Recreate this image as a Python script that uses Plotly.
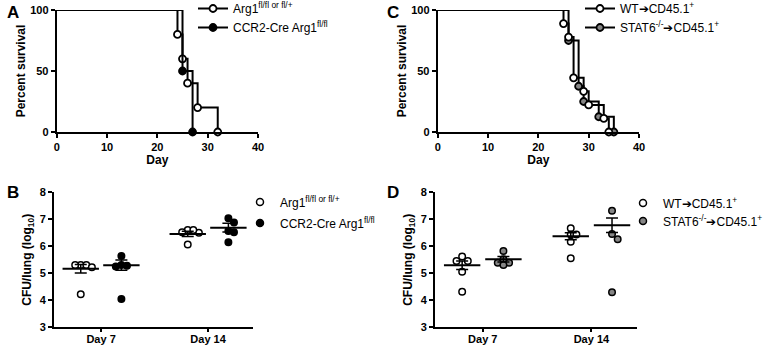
import plotly.graph_objects as go
import math

# ---------------- data ----------------
# Panel A: survival (Kaplan-Meier steps)
a_wt_days = [0, 24, 25, 26, 28, 32]
a_wt_surv = [100, 80, 60, 40, 20, 0]
a_ko_days = [0, 25, 27]
a_ko_surv = [100, 50, 0]
a_names = ["Arg1<sup>fl/fl or fl/+</sup>", "CCR2-Cre Arg1<sup>fl/fl</sup>"]

# Panel C: survival
c_wt_days = [0, 25, 26, 27, 29, 30, 33, 34]
c_wt_surv = [100, 88.9, 77.8, 44.4, 33.3, 22.2, 11.1, 0]
c_st_days = [0, 26, 28, 29, 32, 35]
c_st_surv = [100, 75, 37.5, 25, 12.5, 0]
c_names = ["WT➔CD45.1<sup>+</sup>", "STAT6<sup>-/-</sup>➔CD45.1<sup>+</sup>"]

# Panel B: CFU/lung (log10)
timepoints = ["Day 7", "Day 14"]
b_wt = [[5.31, 5.31, 5.22, 5.31, 4.22], [6.60, 6.52, 6.50, 6.60, 6.07]]
b_ko = [[5.64, 5.31, 5.28, 5.25, 4.05], [7.04, 6.88, 6.57, 6.52, 6.15]]
b_wt_mean = [5.17, 6.46]
b_wt_sem = [0.16, 0.10]
b_ko_mean = [5.30, 6.69]
b_ko_sem = [0.19, 0.16]

# Panel D: CFU/lung (log10)
d_wt = [[5.62, 5.46, 5.46, 5.06, 4.32], [6.67, 6.44, 6.44, 6.17, 5.56]]
d_st = [[5.83, 5.52, 5.39, 5.39, 5.31], [7.32, 6.46, 6.26, 4.30]]
d_wt_mean = [5.30, 6.37]
d_wt_sem = [0.16, 0.13]
d_st_mean = [5.52, 6.78]
d_st_sem = [0.10, 0.27]

FONT = "Liberation Sans, Arial, sans-serif"
GRAY = "#858585"
W, H = 763, 345

fig = go.Figure()

# ---------------- helpers ----------------
def swarm(values, center, xscale=107.5, yscale=27.0, dmin=5.6):
    placed = []
    xs = [0.0] * len(values)
    for i in sorted(range(len(values)), key=lambda k: -values[k]):
        ypx = values[i] * yscale
        cands = [0.0]
        for n in range(1, 10):
            cands += [n * dmin, -n * dmin]
        for off in cands:
            if all(math.hypot(off - px, ypx - py) >= dmin - 1e-6 for px, py in placed):
                placed.append((off, ypx))
                xs[i] = center + off / xscale
                break
    return xs


def km(days, surv, name, fill, xa, ya, legend):
    fig.add_trace(go.Scatter(x=days, y=surv, mode="lines", line=dict(color="black", width=2, shape="hv"),
                             xaxis=xa, yaxis=ya, showlegend=False, cliponaxis=False, hoverinfo="skip"))
    fig.add_trace(go.Scatter(x=days[1:], y=surv[1:], mode="markers",
                             marker=dict(size=7, color=fill, line=dict(color="black", width=1.8)),
                             xaxis=xa, yaxis=ya, showlegend=False, cliponaxis=False))
    fig.add_trace(go.Scatter(x=[None], y=[None], mode="lines+markers", name=name,
                             line=dict(color="black", width=2),
                             marker=dict(size=7, color=fill, line=dict(color="black", width=1.8)),
                             xaxis=xa, yaxis=ya, legend=legend))


def dots(groups, means, sems, offset, name, fill, xa, ya, legend):
    for j, vals in enumerate(groups):
        xs = swarm(vals, j + 1 + offset)
        fig.add_trace(go.Scatter(x=xs, y=vals, mode="markers",
                                 marker=dict(size=6.5, color=fill, line=dict(color="black", width=1.5)),
                                 xaxis=xa, yaxis=ya, showlegend=False, cliponaxis=False))
    fig.add_trace(go.Scatter(x=[1 + offset, 2 + offset], y=means, mode="markers",
                             marker=dict(symbol="line-ew", size=26, line=dict(color="black", width=2)),
                             error_y=dict(type="data", array=sems, color="black", thickness=1.5, width=6),
                             xaxis=xa, yaxis=ya, showlegend=False, cliponaxis=False))
    fig.add_trace(go.Scatter(x=[None], y=[None], mode="markers", name=name,
                             marker=dict(size=7, color=fill, line=dict(color="black", width=1.5)),
                             xaxis=xa, yaxis=ya, legend=legend))


# ---------------- traces ----------------
km(a_wt_days, a_wt_surv, a_names[0], "white", "x", "y", "legend")
km(a_ko_days, a_ko_surv, a_names[1], "black", "x", "y", "legend2")
km(c_st_days, c_st_surv, c_names[1], GRAY, "x2", "y2", "legend4")
km(c_wt_days, c_wt_surv, c_names[0], "white", "x2", "y2", "legend3")

dots(b_wt, b_wt_mean, b_wt_sem, -0.19, a_names[0], "white", "x3", "y3", "legend5")
dots(b_ko, b_ko_mean, b_ko_sem, 0.19, a_names[1], "black", "x3", "y3", "legend6")
dots(d_wt, d_wt_mean, d_wt_sem, -0.19, c_names[0], "white", "x4", "y4", "legend7")
dots(d_st, d_st_mean, d_st_sem, 0.19, c_names[1], GRAY, "x4", "y4", "legend8")

# ---------------- layout ----------------
def px_dom(a, b, total):
    return [a / total, b / total]

def py_dom(top, bottom):
    return [1 - bottom / H, 1 - top / H]

tickfont = dict(family=FONT, size=11, color="black", weight="bold")
titlefont = dict(family=FONT, size=12, color="black", weight="bold")
axcommon = dict(showline=True, linecolor="black", linewidth=2, ticks="outside", ticklen=4,
                tickwidth=2, tickcolor="black", showgrid=False, zeroline=False, tickfont=tickfont,
                fixedrange=True)
catx = dict(axcommon, ticklen=3, ticklabelstandoff=-3)

layout = dict(
    width=W, height=H, margin=dict(l=0, r=0, t=0, b=0, autoexpand=False),
    paper_bgcolor="white", plot_bgcolor="white",
    xaxis=dict(domain=px_dom(56.7, 258, W), range=[0, 40], tickvals=[0, 10, 20, 30, 40], anchor="y",
               title=dict(text="Day", font=titlefont, standoff=3), **axcommon),
    yaxis=dict(domain=py_dom(10, 132), range=[0, 100], tickvals=[0, 50, 100], anchor="x",
               title=dict(text="Percent survival", font=titlefont, standoff=2), **axcommon),
    xaxis2=dict(domain=px_dom(437.7, 639, W), range=[0, 40], tickvals=[0, 10, 20, 30, 40], anchor="y2",
                title=dict(text="Day", font=titlefont, standoff=3), **axcommon),
    yaxis2=dict(domain=py_dom(10, 132), range=[0, 100], tickvals=[0, 50, 100], anchor="x2",
                title=dict(text="Percent survival", font=titlefont, standoff=2), **axcommon),
    xaxis3=dict(domain=px_dom(54, 253, W), range=[0.56, 2.42], tickvals=[1, 2], ticktext=timepoints,
                anchor="y3", **catx),
    yaxis3=dict(domain=py_dom(192.3, 327.3), range=[3, 8], tickvals=[3, 4, 5, 6, 7, 8], anchor="x3",
                title=dict(text="CFU/lung (log<sub>10</sub>)", font=titlefont, standoff=5), **axcommon),
    xaxis4=dict(domain=px_dom(435, 637, W), range=[0.56, 2.42], tickvals=[1, 2], ticktext=timepoints,
                anchor="y4", **catx),
    yaxis4=dict(domain=py_dom(192.3, 327.3), range=[3, 8], tickvals=[3, 4, 5, 6, 7, 8], anchor="x4",
                title=dict(text="CFU/lung (log<sub>10</sub>)", font=titlefont, standoff=5), **axcommon),
)

legfont = dict(family=FONT, size=12, color="black")
def leg(xpx, ypx):
    return dict(x=xpx / W, y=1 - ypx / H, xanchor="left", yanchor="top", font=legfont,
                bgcolor="rgba(0,0,0,0)", borderwidth=0, itemwidth=30, tracegroupgap=0,
                traceorder="normal", itemclick=False, itemdoubleclick=False)

layout["legend"] = leg(193, -6)
layout["legend2"] = leg(193, 13)
layout["legend3"] = leg(580, -6)
layout["legend4"] = leg(580, 13)
layout["legend5"] = leg(240, 187.5)
layout["legend6"] = leg(240, 208.5)
layout["legend7"] = leg(623, 188.5)
layout["legend8"] = leg(623, 206.5)

letters = [("A", 5, 1), ("C", 385, 1), ("B", 5, 181), ("D", 385, 181)]
layout["annotations"] = [dict(text=t, x=x / W, y=1 - y / H, xref="paper", yref="paper", xanchor="left",
                              yanchor="top", showarrow=False,
                              font=dict(family=FONT, size=17, color="black", weight="bold"))
                         for t, x, y in letters]

fig.update_layout(**layout)
fig.write_html("out.html", config={"displayModeBar": False},
               post_script="document.body.style.margin='0';")
